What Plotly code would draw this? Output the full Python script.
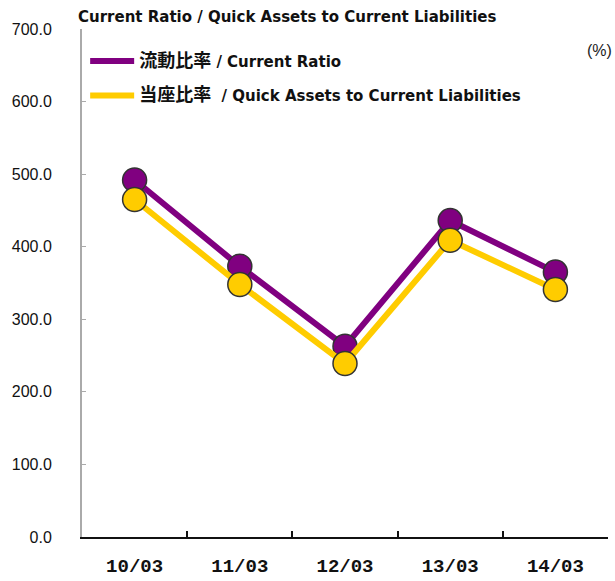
import plotly.graph_objects as go

categories = ["10/03", "11/03", "12/03", "13/03", "14/03"]
current_ratio = [492.0, 373.0, 263.0, 436.0, 365.0]
quick_ratio = [465.0, 348.0, 239.0, 409.0, 341.0]
name_current = '<span style="font-size:18px">流動比率</span> / Current Ratio'
name_quick = '<span style="font-size:18px">当座比率</span>  / Quick Assets to Current Liabilities'
title_text = "Current Ratio / Quick Assets to Current Liabilities"
unit_text = "(%)"

PURPLE = "#800080"
YELLOW = "#FFCC00"

fig = go.Figure()
fig.add_trace(go.Scatter(x=categories, y=current_ratio, mode="lines+markers",
                         line=dict(color=PURPLE, width=6),
                         marker=dict(size=24, color=PURPLE, line=dict(color="#333333", width=1.5)),
                         showlegend=False))
fig.add_trace(go.Scatter(x=categories, y=quick_ratio, mode="lines+markers",
                         line=dict(color=YELLOW, width=6),
                         marker=dict(size=24, color=YELLOW, line=dict(color="#333333", width=1.5)),
                         showlegend=False))
# legend-only entries
fig.add_trace(go.Scatter(x=[None], y=[None], mode="lines", name=name_current,
                         line=dict(color=PURPLE, width=6), legendgroup="a"))
fig.add_trace(go.Scatter(x=[None], y=[None], mode="lines", name=name_quick,
                         line=dict(color=YELLOW, width=6), legendgroup="b"))

fig.update_layout(
    width=615, height=581,
    margin=dict(l=82, r=7, t=29, b=44),
    paper_bgcolor="white", plot_bgcolor="white",
    title=dict(text="<b>" + title_text + "</b>", xref="container", yref="container",
               x=78/615, xanchor="left", y=1-17/581, yanchor="middle",
               font=dict(family="DejaVu Sans", size=15, color="#111111")),
    legend=dict(x=0.006, y=0.969, xanchor="left", yanchor="top",
                bgcolor="rgba(0,0,0,0)", tracegroupgap=12, traceorder="grouped",
                font=dict(family="DejaVu Sans, Noto Sans CJK JP", size=15, color="#111111",
                          weight="bold"),
                itemwidth=44),
    annotations=[dict(text=unit_text, xref="paper", yref="paper", x=0.983, y=0.958,
                      xanchor="center", yanchor="middle", showarrow=False,
                      font=dict(family="Liberation Sans", size=16, color="#222222"))],
)
fig.update_xaxes(type="category", range=[-0.5, 4.5], tickson="boundaries",
                 ticks="inside", ticklen=6, tickwidth=2, tickcolor="#111111",
                 showline=True, linecolor="#111111", linewidth=2, showgrid=False,
                 ticklabelstandoff=10, automargin=False,
                 tickfont=dict(family="Liberation Mono", size=19, color="#111111", weight="bold"))
fig.update_yaxes(range=[0, 700], dtick=100, tickformat=".1f", ticks="inside", ticklen=4,
                 tickcolor="#aaaaaa", showline=True, linecolor="#aaaaaa", linewidth=2,
                 showgrid=False, zeroline=False, ticklabelstandoff=25, automargin=False,
                 tickfont=dict(family="Liberation Sans", size=16, color="#111111"))

fig.write_html("out.html", config={"displayModeBar": False},
               post_script="document.body.style.margin='0';document.body.style.padding='0';")
